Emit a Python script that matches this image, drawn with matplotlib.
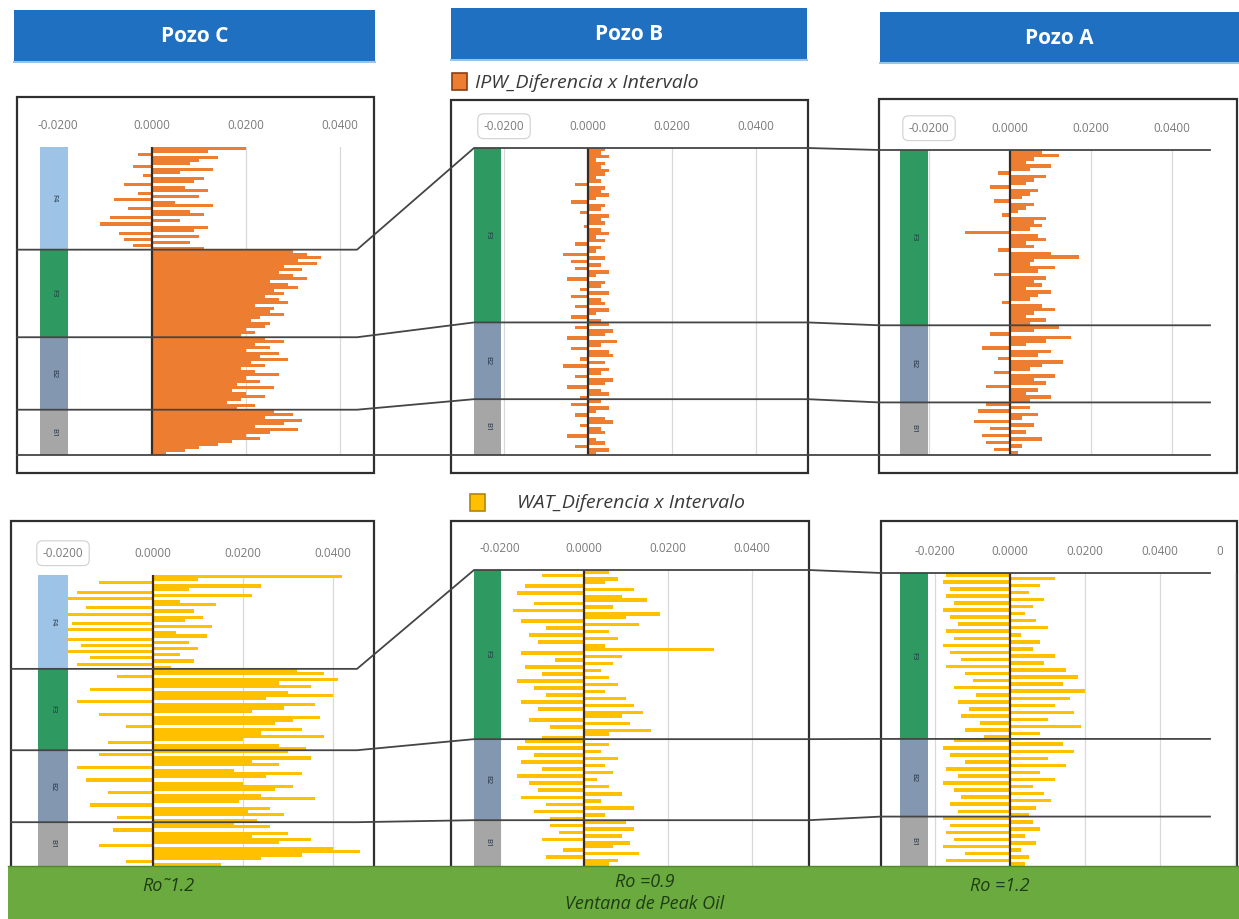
"""
IPW / WAT diferencia x intervalo - correlacion Pozo C, B, A
"""

import matplotlib
matplotlib.use("Agg")
import matplotlib.pyplot as plt
import numpy as np
from matplotlib.patches import Rectangle
from matplotlib.lines import Line2D
from matplotlib.transforms import blended_transform_factory

plt.rcParams["font.family"] = ["Open Sans", "DejaVu Sans"]

W, H = 1239, 919

wells = ["Pozo C", "Pozo B", "Pozo A"]
well_formations = {
    "Pozo C": ["F4", "F3", "B2", "B1"],
    "Pozo B": ["F3", "B2", "B1"],
    "Pozo A": ["F3", "B2", "B1"],
}
form_colors = {"F4": "#9DC3E6", "F3": "#2E9A62", "B2": "#8497B0", "B1": "#A6A6A6"}
tick_vals = [-0.02, 0.0, 0.02, 0.04, 0.06]
tick_labels = ["-0.0200", "0.0000", "0.0200", "0.0400", "0.0600"]
ro_labels = ["Ro\u02dc1.2", "Ro =0.9\nVentana de Peak Oil", "Ro =1.2"]

# values in 1e-3 units, top to bottom, one list per formation
ipw_c_f4 = [20, 12, -3, 14, 10, 8, -4, 13, 6, -2, 11, 9, -6, 7, 12, -3, 10, -8, 5, 13,
            -5, 8, 11, -9, 6, -11, 12, 9, -7, 10, -6, 8, -4, 11]
ipw_c_f3 = [30, 33, 36, 31, 35, 28, 32, 27, 30, 33, 25, 29, 31, 26, 28, 24, 27, 29, 22, 26,
            25, 28, 23, 21, 25, 24, 20, 22, 19]
ipw_c_b2 = [24, 28, 22, 25, 20, 27, 23, 29, 21, 24, 19, 22, 27, 20, 23, 18, 26, 17, 20, 24,
            19, 16, 22, 18]
ipw_c_b1 = [26, 30, 24, 32, 28, 22, 31, 25, 20, 23, 17, 14, 10, 7, 3]

ipw_b_f3 = [4, 3, 5, 2, 4, 3, 5, 4, 2, 3, -3, 4, 3, 5, 2, -4, 4, 3, -2, 5,
            3, 4, -1, 3, 5, 2, 4, -3, 3, 2, -6, 4, -4, 3, -3, 5, 2, -5, 4, 3,
            -2, 5, -4, 3, 4, -3, 5, 2, -4, 3]
ipw_b_b2 = [5, -3, 6, 4, -5, 7, 3, -4, 5, 6, -2, 4, -6, 5, 3, -3, 6, 4, -5, 3, 5, -2]
ipw_b_b1 = [3, -4, 5, 2, -3, 4, 6, -2, 3, 4, -5, 2, 4, -3, 5, 2]

ipw_a_f3 = [8, 12, 6, 4, 10, 5, -3, 9, 6, 4, -5, 7, 5, 3, -4, 6, 4, 2, -2, 9,
            6, 8, 5, -11, 7, 9, 4, 6, -3, 10, 17, 6, 5, 11, 7, -4, 9, 6, 8, 4,
            10, 7, 5, -2, 8, 11, 6, 4, 9, 5]
ipw_a_b2 = [12, 6, -5, 15, 9, 4, -7, 10, 7, -3, 13, 8, 5, -4, 11, 6, 9, -6, 7, 4, 10, 5]
ipw_a_b1 = [-6, 5, -8, 7, 3, -9, 6, -5, 4, -7, 8, -6, 3, -4, 2]

wat_c_f4 = [42, 10, -12, 24, 8, -17, 22, -20, 6, 14, -15, 9, -22, 11, 7, -18, 13, -21, 5, 12,
            -19, 8, -16, 10, -22, 6, -14, 9, -17, 4]
wat_c_f3 = [32, 38, -8, 41, 28, 35, -14, 30, 40, 25, -17, 36, 29, 22, -12, 37, 31, 27, -6, 33,
            24, 38, 20, -10, 28, 34]
wat_c_b2 = [30, -12, 35, 22, 28, -17, 18, 33, 25, -15, 20, 31, 27, -10, 24, 36, 19, -14, 26, 21,
            29, -8, 23]
wat_c_b1 = [18, 26, -9, 30, 22, 35, 28, -12, 40, 46, 33, 24, -6, 15]

wat_b_f3 = [6, -10, 8, 5, -14, 12, -16, 9, 15, -12, 7, -17, 18, 10, -15, 13, -9, 6, -13, 8,
            -11, 5, 31, -15, 9, -7, 7, -14, 4, -10, 6, -16, 8, -12, 5, -9, 10, -15, 12, -11,
            14, 9, -13, 11, -8, 16, 6, -10]
wat_b_b2 = [-14, 6, -16, 4, -12, 8, -15, 5, -10, 7, -16, 3, -13, 6, -11, 9, -15, 4, -9, 12,
            -12, 5, -8]
wat_b_b1 = [10, -8, 12, -6, 9, -10, 11, 7, -5, 13, -9, 8, 6]

wat_a_f3 = [-17, 12, -18, 8, -16, 5, -17, 9, -15, 6, -18, 4, -16, 7, -14, 10, -17, 3, -15, 8,
            -18, 6, -16, 12, -13, 9, -17, 15, -12, 18, -10, 14, -15, 20, -9, 16, -14, 12, -11, 17,
            -13, 10, -8, 19, -12, 8, -7]
wat_a_b2 = [-15, 14, -18, 17, -16, 10, -12, 15, -17, 8, -14, 12, -18, 6, -15, 9, -13, 11, -16, 7,
            -14, 5]
wat_a_b1 = [-18, 6, -16, 8, -17, 4, -15, 7, -18, 3, -12, 5, -17, 4]

series = {
    "IPW": {"Pozo C": [ipw_c_f4, ipw_c_f3, ipw_c_b2, ipw_c_b1],
            "Pozo B": [ipw_b_f3, ipw_b_b2, ipw_b_b1],
            "Pozo A": [ipw_a_f3, ipw_a_b2, ipw_a_b1]},
    "WAT": {"Pozo C": [wat_c_f4, wat_c_f3, wat_c_b2, wat_c_b1],
            "Pozo B": [wat_b_f3, wat_b_b2, wat_b_b1],
            "Pozo A": [wat_a_f3, wat_a_b2, wat_a_b1]},
}
series_colors = {"IPW": "#ED7D31", "WAT": "#FFC000"}
series_edges = {"IPW": "#8A3E10", "WAT": "#B38600"}
legend_text = {"IPW": "IPW_Diferencia x Intervalo", "WAT": "WAT_Diferencia x Intervalo"}

# layout in pixels (box = x0, y0, x1, y1 ; ax = left, right, top, bottom ; clip = right edge of plot area)
layout = {
    ("IPW", "Pozo C"): dict(box=(17, 97, 374, 473), ax=(40, 368, 147, 455), zero=152, step=94, col=28, boxed=False, clip=374),
    ("IPW", "Pozo B"): dict(box=(451, 100, 808, 473), ax=(474, 800, 148, 455), zero=588, step=84, col=27, boxed=True, clip=808),
    ("IPW", "Pozo A"): dict(box=(879, 99, 1237, 473), ax=(900, 1215, 150, 455), zero=1010, step=81, col=28, boxed=True, clip=1237),
    ("WAT", "Pozo C"): dict(box=(11, 521, 374, 890), ax=(38, 368, 575, 866), zero=153, step=90, col=30, boxed=True, clip=374),
    ("WAT", "Pozo B"): dict(box=(451, 521, 809, 890), ax=(474, 800, 570, 866), zero=584, step=84, col=27, boxed=False, clip=809),
    ("WAT", "Pozo A"): dict(box=(881, 521, 1237, 890), ax=(900, 1237, 573, 866), zero=1010, step=75, col=28, boxed=False, clip=1223),
}
headers = {"Pozo C": (14, 10, 375, 62), "Pozo B": (451, 8, 807, 60), "Pozo A": (880, 12, 1239, 63)}
legend_pos = {"IPW": (452, 73, 475, 83), "WAT": (470, 494, 517, 503)}
ro_pos = [(168, 886), (645, 893), (1000, 886)]

fig = plt.figure(figsize=(W / 100, H / 100), dpi=100)
bg = fig.add_axes([0, 0, 1, 1], zorder=0)
bg.set_xlim(0, W)
bg.set_ylim(H, 0)
bg.axis("off")
fg = fig.add_axes([0, 0, 1, 1], zorder=10)
fg.set_xlim(0, W)
fg.set_ylim(H, 0)
fg.axis("off")
fg.patch.set_visible(False)

# headers
for well in wells:
    x0, y0, x1, y1 = headers[well]
    bg.add_patch(Rectangle((x0, y0), x1 - x0, y1 - y0, facecolor="#1F70C1", edgecolor="none"))
    bg.plot([x0, x1], [y1, y1], color="#9DC3E6", lw=1.5)
    bg.text((x0 + x1) / 2, (y0 + y1) / 2 + 1, well, color="white", fontsize=15,
            fontweight="bold", ha="center", va="center")

panel_axes = {}
for key in ["IPW", "WAT"]:
    sx, sy, tx, ty = legend_pos[key]
    bg.add_patch(Rectangle((sx, sy), 15, 17, facecolor=series_colors[key],
                           edgecolor=series_edges[key], lw=1.2))
    bg.text(tx, ty, legend_text[key], fontsize=14, style="italic", color="#3A3A3A",
            ha="left", va="center")

    for well in wells:
        lay = layout[(key, well)]
        bx0, by0, bx1, by1 = lay["box"]
        bg.add_patch(Rectangle((bx0, by0), bx1 - bx0, by1 - by0, facecolor="white",
                               edgecolor="#2F2F2F", lw=1.6))
        clip_rect = Rectangle((bx0, by0), lay["clip"] - bx0, by1 - by0, transform=bg.transData)
        left, right, top, bottom = lay["ax"]
        ax = fig.add_axes([left / W, 1 - bottom / H, (right - left) / W, (bottom - top) / H], zorder=2)
        ax.patch.set_visible(False)
        for sp in ax.spines.values():
            sp.set_visible(False)

        groups = series[key][well]
        vals = np.concatenate([np.asarray(g, dtype=float) for g in groups]) * 1e-3
        n = len(vals)
        ax.barh(np.arange(n), vals, height=1.0, color=series_colors[key], lw=0, zorder=2)
        ax.set_ylim(n - 0.5, -0.5)
        xlo = (left - lay["zero"]) / lay["step"] * 0.02
        xhi = (right - lay["zero"]) / lay["step"] * 0.02
        ax.axvline(0, color="#3B2A1E", lw=1.6, zorder=3)

        shown = [(v, t) for v, t in zip(tick_vals, tick_labels) if xlo <= v <= xhi]
        ax.set_xticks([v for v, _ in shown])
        ax.set_xticklabels([t for _, t in shown])
        ax.set_xlim(xlo, xhi)
        ax.xaxis.tick_top()
        ax.tick_params(axis="x", length=0, pad=11, labelsize=8.5, labelcolor="#7A7A7A")
        ax.set_yticks([])
        ax.grid(axis="x", color="#D9D9D9", lw=0.9)
        ax.set_axisbelow(True)
        labels = ax.get_xticklabels()
        if lay["boxed"]:
            labels[0].set_bbox(dict(boxstyle="round,pad=0.5", fc="white", ec="#D0D0D0", lw=0.8))
        for lbl in labels:
            lbl.set_clip_path(clip_rect)

        # formation column
        trans = blended_transform_factory(ax.transAxes, ax.transData)
        cw = lay["col"] / (right - left)
        start = 0
        for form, g in zip(well_formations[well], groups):
            ax.add_patch(Rectangle((0, start - 0.5), cw, len(g), transform=trans,
                                   facecolor=form_colors[form], edgecolor="none", zorder=4))
            ax.text(cw / 2, start - 0.5 + len(g) / 2, form, transform=trans, rotation=270,
                    fontsize=5.5, color="#1F2F40", ha="center", va="center", zorder=5)
            start += len(g)
        panel_axes[(key, well)] = (ax, groups)

    # correlation lines between wells
    to_px = fg.transData.inverted()

    def boundary_y(well, form_idx_end):
        ax, groups = panel_axes[(key, well)]
        k = sum(len(g) for g in groups[:form_idx_end])
        return to_px.transform(ax.transData.transform((0, k - 0.5)))[1]

    bounds = [(1, 0), (2, 1), (3, 2), (4, 3)]
    if key == "WAT":
        bounds = bounds[:3]
    lc, lb, la = layout[(key, "Pozo C")], layout[(key, "Pozo B")], layout[(key, "Pozo A")]
    for ci, bi in bounds:
        yc = boundary_y("Pozo C", ci)
        yb = boundary_y("Pozo B", bi)
        ya = boundary_y("Pozo A", bi)
        xs = [lc["box"][0], 357, lb["ax"][0], lb["box"][2], la["box"][0], 1210]
        ys = [yc, yc, yb, yb, ya, ya]
        fg.add_line(Line2D(xs, ys, color="#454545", lw=1.3, zorder=3))

# green band
fg.add_patch(Rectangle((8, 866), W - 8, H - 866, facecolor="#6BAA3E", edgecolor="none", zorder=6))
fg.plot([8, W], [866, 866], color="#4E8A2A", lw=1.0, zorder=7)
for (x, y), txt in zip(ro_pos, ro_labels):
    fg.text(x, y, txt, fontsize=13, style="italic", color="#1E3D16", ha="center",
            va="center", linespacing=1.25, zorder=8)

fig.savefig("out.png", dpi=100)
